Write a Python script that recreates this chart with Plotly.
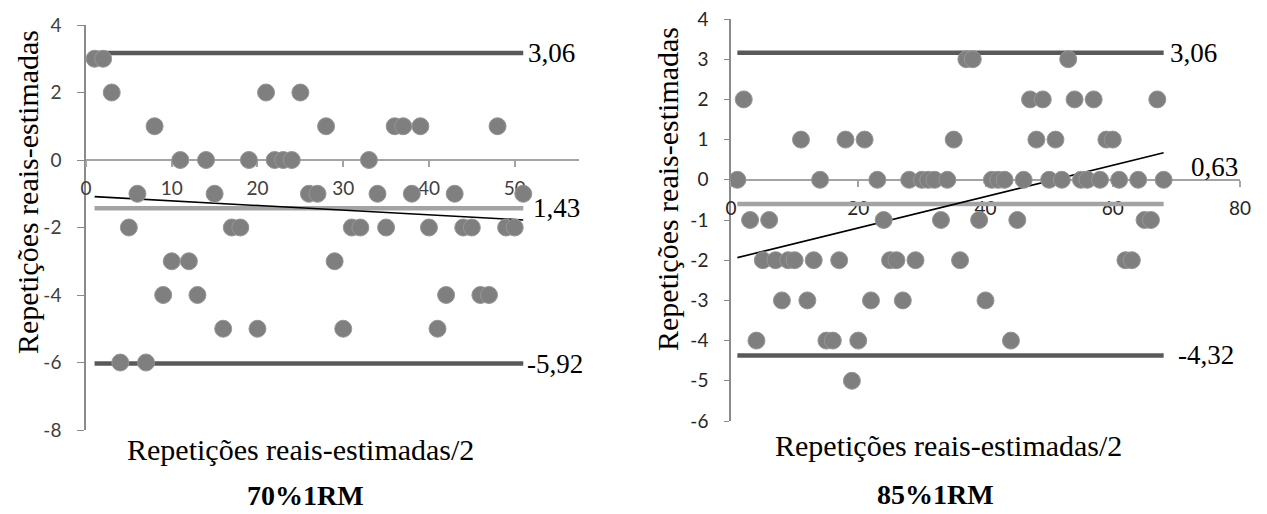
import numpy as np
import plotly.graph_objects as go

W, H = 1267, 514

# ---------------- data ----------------
left_x = list(range(1, 52))
left_y = [3, 3, 2, -6, -2, -1, -6, 1, -4, -3,
          0, -3, -4, 0, -1, -5, -2, -2, 0, -5,
          2, 0, 0, 0, 2, -1, -1, 1, -3, -5,
          -2, -2, 0, -1, -2, 1, 1, -1, 1, -2,
          -5, -4, -1, -2, -2, -4, -4, 1, -2, -2, -1]

right_x = list(range(1, 69))
right_y = [0, 2, -1, -4, -2, -1, -2, -3, -2, -2,
           1, -3, -2, 0, -4, -4, -2, 1, -5, -4,
           1, -3, 0, -1, -2, -2, -3, 0, -2, 0,
           0, 0, -1, 0, 1, -2, 3, 3, -1, -3,
           0, 0, 0, -4, -1, 0, 2, 1, 2, 0,
           1, 0, 3, 2, 0, 0, 2, 0, 1, 1,
           0, -2, -2, 0, -1, -1, 2, 0]

# limit lines (upper, mean, lower) as drawn, and their printed labels
left_lines = [3.17, -1.43, -6.03]
left_labels = ["3,06", "1,43", "-5,92"]
right_lines = [3.16, -0.60, -4.37]
right_labels = ["3,06", "0,63", "-4,32"]

left_xticks = [0, 10, 20, 30, 40, 50]
left_yticks = [-8, -6, -4, -2, 0, 2, 4]
left_yticktext = ["-8", "-6", "-4", "-2", "0", "2", "4"]
right_xticks = [0, 20, 40, 60, 80]
right_yticks = [-6, -5, -4, -3, -2, -1, 0, 1, 2, 3, 4]
right_yticktext = ["-6", "-5", "-4", "-3", "-2", "-1", "0", "1", "2", "3", "4"]

y_title = "Repetições reais-estimadas"
x_title = "Repetições reais-estimadas/2"
panel_titles = ["70%1RM", "85%1RM"]

# ---------------- styles ----------------
MARK = "#7f7f7f"
DARK = "#595959"
LIGHT = "#a3a3a3"
SERIF = "Liberation Serif, Times New Roman, serif"
SANS = "Lato, Carlito, Calibri, sans-serif"

fig = go.Figure()


def add_panel(xs, ys, lines, labels, xa, ya, label_shifts, mean_label_pos=None):
    x0, x1 = xs[0], xs[-1]
    for val, col in zip(lines, [DARK, LIGHT, DARK]):
        fig.add_trace(go.Scatter(x=[x0, x1], y=[val, val], mode="lines",
                                 line=dict(color=col, width=4.5),
                                 xaxis=xa, yaxis=ya, hoverinfo="skip",
                                 showlegend=False))
    # trend line (least squares)
    k, b = np.polyfit(xs, ys, 1)
    fig.add_trace(go.Scatter(x=[x0, x1], y=[k * x0 + b, k * x1 + b], mode="lines",
                             line=dict(color="black", width=1.6),
                             xaxis=xa, yaxis=ya, hoverinfo="skip", showlegend=False))
    fig.add_trace(go.Scatter(x=xs, y=ys, mode="markers",
                             marker=dict(color=MARK, size=17,
                                         line=dict(color="#969696", width=1)),
                             xaxis=xa, yaxis=ya, showlegend=False))
    for i, (val, txt) in enumerate(zip(lines, labels)):
        if i == 1 and mean_label_pos is not None:
            ax_, ay_ = mean_label_pos
        else:
            ax_, ay_ = x1, val
        fig.add_annotation(x=ax_, y=ay_, xref=xa, yref=ya, text=txt,
                           showarrow=False, xanchor="left", yanchor="middle",
                           xshift=label_shifts[i],
                           font=dict(family=SERIF, size=27, color="black"))


add_panel(left_x, left_y, left_lines, left_labels, "x", "y", [3, 8, 2])
add_panel(right_x, right_y, right_lines, right_labels, "x2", "y2", [4, 0, 12],
          mean_label_pos=(72, 0.32))

axis_common = dict(showgrid=False, zeroline=False, showline=True, automargin=False,
                   ticks="outside", layer="below traces")

fig.update_layout(
    template="none",
    width=W, height=H,
    margin=dict(l=0, r=0, t=0, b=0, pad=0),
    paper_bgcolor="white", plot_bgcolor="rgba(0,0,0,0)",
    showlegend=False,
    xaxis=dict(domain=[86 / W, 579 / W], range=[0, 57.5], anchor="free",
               position=1 - 160 / H, tickvals=left_xticks, ticklen=6,
               linecolor=LIGHT, linewidth=2, tickcolor=LIGHT, tickwidth=1.5,
               ticklabelstandoff=5,
               tickfont=dict(family=SANS, size=19, color="#404040"),
               **axis_common),
    yaxis=dict(domain=[1 - 430 / H, 1 - 25 / H], range=[-8, 4], anchor="x",
               tickvals=left_yticks, ticktext=left_yticktext, ticklen=7,
               linecolor="#8a8a8a", linewidth=1.5,
               tickcolor="#8a8a8a", ticklabelstandoff=12,
               tickfont=dict(family=SANS, size=19, color="#404040"),
               **axis_common),
    xaxis2=dict(domain=[731 / W, 1240 / W], range=[0, 80], anchor="free",
                position=1 - 180 / H, tickvals=right_xticks, ticklen=6,
                linecolor=LIGHT, linewidth=2, tickcolor=LIGHT, tickwidth=1.5,
                ticklabelstandoff=5,
                tickfont=dict(family=SANS, size=19, color="#262626"),
                **axis_common),
    yaxis2=dict(domain=[1 - 421 / H, 1 - 19 / H], range=[-6, 4], anchor="x2",
                tickvals=right_yticks, ticktext=right_yticktext, ticklen=5,
                linecolor="#8a8a8a", linewidth=1.5,
                tickcolor="#8a8a8a", ticklabelstandoff=12,
                tickfont=dict(family=SANS, size=19, color="#262626"),
                **axis_common),
)

for cx, cy in [(27, 192), (667, 189)]:
    fig.add_annotation(x=cx / W, y=1 - cy / H, xref="paper", yref="paper",
                       text=y_title, textangle=-90, showarrow=False,
                       xanchor="center", yanchor="middle",
                       font=dict(family=SERIF, size=30, color="black"))
for cx, cy in [(300, 449), (948, 445)]:
    fig.add_annotation(x=cx / W, y=1 - cy / H, xref="paper", yref="paper",
                       text=x_title, showarrow=False,
                       xanchor="center", yanchor="middle",
                       font=dict(family=SERIF, size=30, color="black"))
for (cx, cy), t in zip([(305, 495), (935, 494)], panel_titles):
    fig.add_annotation(x=cx / W, y=1 - cy / H, xref="paper", yref="paper",
                       text="<b>" + t + "</b>", showarrow=False,
                       xanchor="center", yanchor="middle",
                       font=dict(family=SERIF, size=28, color="black"))

fig.write_html("out.html",
               config={"displayModeBar": False},
               post_script="document.body.style.margin='0';document.body.style.overflow='hidden';")
